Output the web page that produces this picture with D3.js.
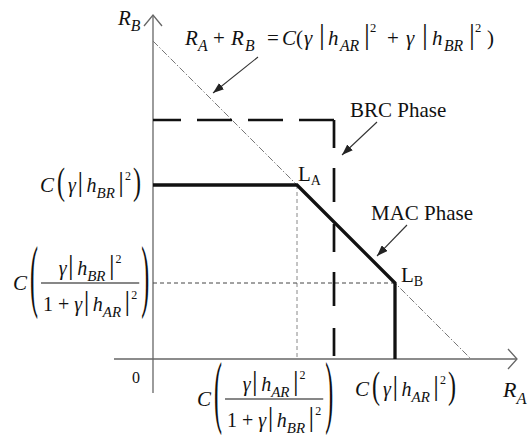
<!DOCTYPE html>
<html>
<head>
<meta charset="utf-8">
<script src="https://cdnjs.cloudflare.com/ajax/libs/d3/7.8.5/d3.min.js"></script>
<style>
  body { margin: 0; background: #fff; }
  svg text { font-family: "Liberation Serif", "Times New Roman", serif; fill: #111; }
</style>
</head>
<body>
<div id="chart"></div>
<script>
const width = 528;
const height = 436;

// rate region, arbitrary units (R_A, R_B)
const macRA = [0, 1.44, 2.42, 2.42];
const macRB = [1.74, 1.74, 0.76, 0];
const sumRate = 3.18;
const brcRA = [0, 1.81, 1.81];
const brcRB = [2.39, 2.39, -0.04];
const cornerIdx = [1, 2];
const cornerNames = ["A", "B"];
const phaseNames = ["BRC Phase", "MAC Phase"];

const svg = d3.select("#chart").append("svg")
  .attr("width", width).attr("height", height)
  .attr("font-family", "'Liberation Serif', 'Times New Roman', serif");

const x = d3.scaleLinear().domain([-0.39, 3.64]).range([114, 517]);
const y = d3.scaleLinear().domain([-0.34, 3.44]).range([393, 15]);

const defs = svg.append("defs");
defs.append("marker").attr("id", "head")
  .attr("markerUnits", "userSpaceOnUse")
  .attr("markerWidth", 12).attr("markerHeight", 8)
  .attr("refX", 11).attr("refY", 4).attr("orient", "auto")
  .append("path").attr("d", "M0,0 L11,4 L0,8 Z").attr("fill", "#222");

const line = d3.line().x(d => x(d[0])).y(d => y(d[1]));

// axes
const axisColor = "#666";
svg.append("path").attr("d", line([[x.domain()[0], 0], [x.domain()[1], 0]]))
  .attr("stroke", axisColor).attr("stroke-width", 1.3).attr("fill", "none");
svg.append("path").attr("d", line([[0, y.domain()[0]], [0, y.domain()[1]]]))
  .attr("stroke", axisColor).attr("stroke-width", 1.3).attr("fill", "none");
const xt = x(x.domain()[1]), yt = y(y.domain()[1]);
svg.append("path").attr("d", `M${xt - 9},${y(0) - 10} L${xt},${y(0)} L${xt - 9},${y(0) + 10}`)
  .attr("stroke", axisColor).attr("stroke-width", 1.3).attr("fill", "none");
svg.append("path").attr("d", `M${x(0) - 9},${yt + 11} L${x(0)},${yt} L${x(0) + 9},${yt + 11}`)
  .attr("stroke", axisColor).attr("stroke-width", 1.3).attr("fill", "none");

// sum-rate bound
svg.append("path").attr("d", line([[0, sumRate], [sumRate, 0]]))
  .attr("stroke", "#777").attr("stroke-width", 1).attr("fill", "none")
  .attr("stroke-dasharray", "7,2,1.5,2");

// thin guides
const LA = [macRA[cornerIdx[0]], macRB[cornerIdx[0]]];
const LB = [macRA[cornerIdx[1]], macRB[cornerIdx[1]]];
svg.append("path").attr("d", line([LA, [LA[0], 0]]))
  .attr("stroke", "#888").attr("stroke-width", 1).attr("fill", "none").attr("stroke-dasharray", "4,3");
svg.append("path").attr("d", line([LB, [0, LB[1]]]))
  .attr("stroke", "#444").attr("stroke-width", 1).attr("fill", "none").attr("stroke-dasharray", "4,3");

// BRC region (dashed)
svg.append("path").attr("d", line([[brcRA[1], brcRB[1]], [brcRA[0], brcRB[0]]]))
  .attr("stroke", "#111").attr("stroke-width", 2.7).attr("fill", "none").attr("stroke-dasharray", "35,16");
svg.append("path").attr("d", line([[brcRA[1], brcRB[1]], [brcRA[2], brcRB[2]]]))
  .attr("stroke", "#111").attr("stroke-width", 2.7).attr("fill", "none").attr("stroke-dasharray", "28,20,34,22");

// MAC region (solid)
svg.append("path").attr("d", line(macRA.map((a, i) => [a, macRB[i]])))
  .attr("stroke", "#111").attr("stroke-width", 3.3).attr("fill", "none")
  .attr("stroke-linejoin", "miter");

// math text helper: parts = [text, kind, dxBefore, absX]
const styles = {
  i: { size: 1, it: true, off: 0 },
  r: { size: 1, it: false, off: 0 },
  s: { size: 0.75, it: true, off: 0.3 },
  p: { size: 0.6, it: false, off: -0.62 },
  b: { size: 1.4, it: false, off: -0.06 }
};
function mathText(g, x0, y0, parts, fs, anchor) {
  const t = g.append("text").attr("x", x0).attr("y", y0)
    .attr("font-size", fs).attr("text-anchor", anchor || "start")
    .style("white-space", "pre");
  let cur = 0;
  parts.forEach(([s, k, dx, ax]) => {
    const st = styles[k];
    const ts = t.append("tspan").text(s)
      .attr("font-size", fs * st.size)
      .attr("font-style", st.it ? "italic" : "normal")
      .attr("dy", (st.off - cur) * fs);
    if (ax !== undefined) ts.attr("x", x0 + ax);
    else if (dx) ts.attr("dx", dx);
    cur = st.off;
  });
  return t;
}
function paren(g, ch, x0, top, bot, fs) {
  const k = (bot - top) / (0.9 * fs);
  const base = bot - 0.21 * fs * k;
  const t = g.append("text").text(ch).attr("font-size", fs)
    .attr("transform", `translate(${x0},${base}) scale(1,${k})`);
  return t.node().getComputedTextLength();
}
// C( ... ) label; rows = [single] or [num, den]
function capLabel(xLeft, yMid, rows, ph, denOff) {
  const g = svg.append("g");
  const c = mathText(g, xLeft, yMid + 7, [["C", "i"]], 21);
  let cx = xLeft + c.node().getComputedTextLength() + 3;
  cx += paren(g, "(", cx, yMid - ph / 2, yMid + ph / 2, 24) + 3;
  let w;
  if (rows.length === 1) {
    const t = mathText(g, cx, yMid + 7, rows[0], 20);
    const bb = t.node().getBBox();
    w = bb.x + bb.width - cx;
  } else {
    const den = mathText(g, 0, yMid + denOff, rows[1], 20);
    const wd = den.node().getBBox().width;
    w = wd + 4;
    den.attr("x", cx + w / 2).attr("text-anchor", "middle");
    mathText(g, cx + w / 2, yMid - 8, rows[0], 20, "middle");
    g.append("line").attr("x1", cx).attr("x2", cx + w)
      .attr("y1", yMid).attr("y2", yMid).attr("stroke", "#111").attr("stroke-width", 1.2);
  }
  cx += w + 2;
  paren(g, ")", cx, yMid - ph / 2, yMid + ph / 2, 24);
}

// γ|h_sub|^2
const term = (sub, lead) => [["γ", "i", lead || 0], ["|", "b", 1.5], ["h", "i", 3.5], [sub, "s"],
  ["|", "b", 3.5], ["2", "p", 1]];
const onePlus = [["1", "r"], ["+", "r", 5]];

capLabel(x(0) - 113, y(macRB[0]), [term("BR")], 34);
capLabel(x(0) - 140, y(LB[1]), [term("BR"), onePlus.concat(term("AR", 5))], 72, 28);
capLabel(x(LA[0]) - 100, y(0) + 40, [term("AR"), onePlus.concat(term("BR", 5))], 72, 28);
capLabel(x(LB[0]) - 40, y(0) + 30, [term("AR")], 34);

// equation (glyph offsets from its left edge)
mathText(svg, 185, 45, [["R", "i", 0, 0], ["A", "s", 0, 13], ["+", "r", 0, 28], ["R", "i", 0, 46],
  ["B", "s", 0, 60], ["=", "r", 0, 82], ["C", "i", 0, 97], ["(", "r", 0, 111],
  ["γ", "i", 0, 119], ["|", "b", 0, 134], ["h", "i", 0, 143], ["AR", "s", 0, 155],
  ["|", "b", 0, 179], ["2", "p", 0, 185], ["+", "r", 0, 202], ["γ", "i", 0, 221],
  ["|", "b", 0, 237], ["h", "i", 0, 247], ["BR", "s", 0, 259], ["|", "b", 0, 284],
  ["2", "p", 0, 290], [")", "r", 0, 302]], 21);

// axis labels
mathText(svg, 118, 25, [["R", "i"], ["B", "s"]], 21);
mathText(svg, 503, 397, [["R", "i"], ["A", "s"]], 22);
svg.append("text").attr("x", x(0) - 17).attr("y", y(0) + 24).attr("font-size", 16)
  .attr("text-anchor", "middle").text("0");

// corner labels
const cornerShift = [[1, -4], [6, -1]];
[LA, LB].forEach((p, i) => {
  const t = svg.append("text").attr("x", x(p[0]) + cornerShift[i][0])
    .attr("y", y(p[1]) + cornerShift[i][1]).attr("font-size", 21);
  t.append("tspan").text("L");
  t.append("tspan").text(cornerNames[i]).attr("font-size", 14).attr("dy", 4);
});

// phase labels + arrows
svg.append("text").attr("x", 350).attr("y", 117).attr("font-size", 21).text(phaseNames[0]);
svg.append("text").attr("x", 371).attr("y", 220).attr("font-size", 21).text(phaseNames[1]);

const arrows = [[[258, 57], [213, 93]], [[377, 122], [342, 155]], [[407, 225], [377, 256]]];
arrows.forEach(a => {
  svg.append("line").attr("x1", a[0][0]).attr("y1", a[0][1]).attr("x2", a[1][0]).attr("y2", a[1][1])
    .attr("stroke", "#333").attr("stroke-width", 1.1).attr("marker-end", "url(#head)");
});
</script>
</body>
</html>
